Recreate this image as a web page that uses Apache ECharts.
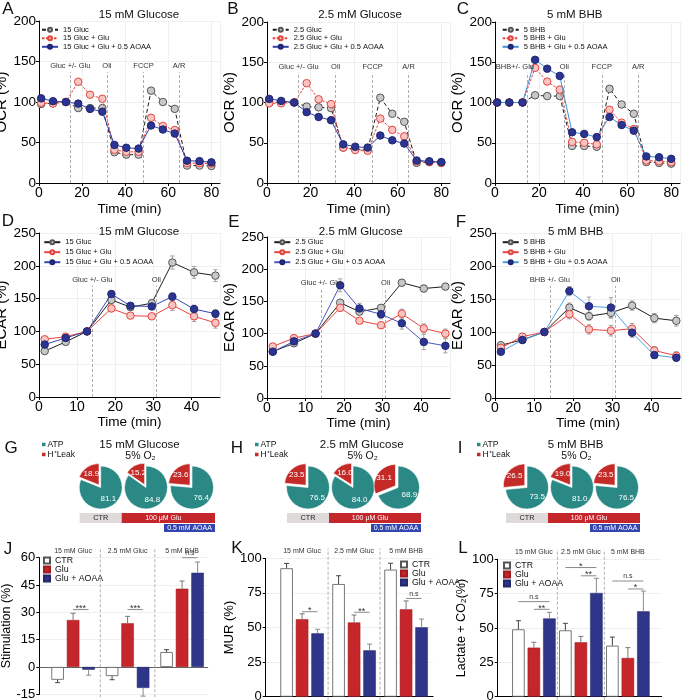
<!DOCTYPE html>
<html><head><meta charset="utf-8">
<script src="https://cdn.jsdelivr.net/npm/echarts@6/dist/echarts.min.js"></script>
<style>html,body{margin:0;padding:0;background:#fff}#c{width:685px;height:700px}</style>
</head><body><div id="c"></div>
<script>
// ================= DATA =================
const ocrTime = [1, 6.5, 12.5, 18.2, 23.7, 29.4, 35, 40.5, 46.2, 52, 57.5, 63, 68.7, 74.5, 80];
const ocrEvents = [14.5, 31.5, 48.5, 65];
const ocrLabelsGluc = ['Gluc +/- Glu', 'Oli', 'FCCP', 'A/R'];
const ocrLabelsBHB = ['BHB+/- Glu', 'Oli', 'FCCP', 'A/R'];

const namesA = ['15 Gluc', '15 Gluc + Glu', '15 Gluc + Glu + 0.5 AOAA'];
const namesB = ['2.5 Gluc', '2.5 Gluc + Glu', '2.5 Gluc + Glu + 0.5 AOAA'];
const namesC = ['5 BHB', '5 BHB + Glu', '5 BHB + Glu + 0.5 AOAA'];

const ocrA_gluc = [97.5, 98.5, 100, 92.5, 92.5, 92.5, 38, 35, 35, 114, 100, 91.5, 21.5, 21.5, 21];
const ocrA_glu  = [99, 98, 100, 125, 109, 104, 41, 38.5, 38.5, 80.5, 70.5, 65.5, 24.5, 24.5, 24];
const ocrA_aoaa = [104.5, 101, 100, 98, 91.5, 88, 47, 43.5, 42.5, 71, 66, 61, 27.5, 27, 25.5];

const ocrB_gluc = [101, 100, 100, 95, 94, 93, 44, 42, 41, 106, 86, 76, 25, 26, 25];
const ocrB_glu  = [99, 99, 100, 124, 104, 98, 44, 41, 40, 80, 66, 58, 27, 26, 25];
const ocrB_aoaa = [104.5, 102, 100, 88, 82, 78, 48, 45, 44, 59, 53, 49, 28, 27, 26];

const ocrC_bhb  = [100, 100, 100, 109, 108, 108, 46, 46, 45, 117, 97.5, 86, 26, 25, 24];
const ocrC_glu  = [100, 100, 100, 143, 126, 116, 51, 50, 48, 91, 75, 67, 28, 27, 26];
const ocrC_aoaa = [100, 100, 100, 153, 142, 133, 63, 61, 57, 82, 72, 65, 33, 32, 30];

const ecarTime = [1.5, 7, 12.6, 19, 24, 29.6, 35, 40.7, 46.3];
const ecarEvents = [14, 30.8];
const ecarLabelsGluc = ['Gluc +/- Glu', 'Oli'];
const ecarLabelsBHB = ['BHB +/- Glu', 'Oli'];

const ecarD_gluc = [70, 84, 100, 148, 137, 143, 205, 190, 185];
const ecarD_glu  = [88, 92, 100, 135, 124, 123, 140, 123, 113];
const ecarD_aoaa = [80, 90, 100, 157, 139, 138, 153, 134, 127];
const ecarD_glucErr = [3, 3, 0, 6, 4, 5, 10, 9, 9];
const ecarD_gluErr  = [3, 3, 0, 5, 4, 4, 8, 8, 8];
const ecarD_aoaaErr = [3, 3, 0, 4, 4, 4, 6, 6, 6];

const ecarE_gluc = [72, 85, 100, 148, 134, 140, 179, 170, 173];
const ecarE_glu  = [80, 93, 100, 140, 120, 113, 131, 108, 100];
const ecarE_aoaa = [72, 88, 100, 175, 139, 130, 116, 87, 81];
const ecarE_glucErr = [3, 3, 0, 5, 4, 4, 5, 5, 5];
const ecarE_gluErr  = [3, 3, 0, 5, 4, 4, 7, 7, 7];
const ecarE_aoaaErr = [3, 3, 0, 10, 8, 7, 9, 12, 11];

const ecarF_bhb  = [80, 88, 100, 137, 124, 129, 140, 121, 117];
const ecarF_glu  = [76, 93, 100, 127, 104, 102, 105, 72, 64];
const ecarF_aoaa = [70, 88, 100, 162, 139, 137, 99, 65, 61];
const ecarF_bhbErr  = [3, 3, 0, 7, 6, 8, 7, 7, 8];
const ecarF_gluErr  = [3, 3, 0, 7, 7, 8, 8, 6, 6];
const ecarF_aoaaErr = [3, 3, 0, 7, 14, 15, 7, 5, 5];

const pieNames = ['ATP', 'H\u207ALeak'];
const atpG = [81.1, 84.8, 76.4], leakG = [18.9, 15.2, 23.6];
const atpH = [76.5, 84.0, 68.9], leakH = [23.5, 16.0, 31.1];
const atpI = [73.5, 81.0, 76.5], leakI = [26.5, 19.0, 23.5];

const barGroups = ['15 mM Gluc', '2.5 mM Gluc', '5 mM BHB'];
const barNames = ['CTR', 'Glu', 'Glu + AOAA'];
const stimCTR = [-7, -5, 8.2],     stimCTRErr = [1.6, 2, 1.3];
const stimGlu = [25.8, 24, 43],    stimGluErr = [3.7, 3.8, 4.2];
const stimAOAA = [-1.5, -11.5, 51.7], stimAOAAErr = [3, 4.5, 5.9];
const murCTR = [92.8, 81.4, 91.8], murCTRErr = [3.5, 6, 4.6];
const murGlu = [56, 53.7, 63.1],   murGluErr = [3.9, 5.3, 6.1];
const murAOAA = [45.8, 33.5, 50.1], murAOAAErr = [2.9, 4.5, 6];
const lacCTR = [49, 48.3, 37.1],   lacCTRErr = [6.3, 5.1, 6.3];
const lacGlu = [35.7, 39.6, 28.2], lacGluErr = [3.9, 4.3, 7.5];
const lacAOAA = [57, 75.5, 62.1],  lacAOAAErr = [4.4, 10.7, 14.8];
// [group, barA, barB, y, text]
const stimSig = [[0, 1, 2, 31.5, '***'], [1, 1, 2, 31.5, '***'], [2, 1, 2, 60, 'n.s']];
const murSig  = [[0, 1, 2, 61.4, '*'], [1, 1, 2, 61, '**'], [2, 1, 2, 71, 'n.s']];
const lacSig  = [[0, 0, 2, 69.2, 'n.s'], [0, 1, 2, 63.6, '**'], [1, 0, 2, 94, '*'], [1, 1, 2, 88, '**'], [2, 0, 2, 84.2, 'n.s'], [2, 1, 2, 78.4, '*']];

// ================= STYLE / LAYOUT =================
const FONT = "'Liberation Sans', Arial, Helvetica, sans-serif";
const ST = [
  {fill: '#c8c8c8', border: '#555', line: '#1e1e1e'},
  {fill: '#f9c4c2', border: '#e2463f', line: '#e8443e'},
  {fill: '#2b3591', border: '#1f2670', line: '#2f3fae'}
];
const grids = [
  {left: 39, top: 21, width: 181, height: 162},
  {left: 267, top: 22, width: 183, height: 161},
  {left: 495, top: 22, width: 185, height: 161},
  {left: 39, top: 233, width: 181, height: 164},
  {left: 267, top: 237, width: 183, height: 161},
  {left: 495, top: 233, width: 186, height: 165},
  {left: 39.3, top: 557.7, width: 168.4, height: 136.6},
  {left: 265.7, top: 558.3, width: 167.4, height: 138.4},
  {left: 497.7, top: 559.3, width: 164, height: 137.4}
];
const barPanels = [
  {gi: 6, min: -0.12, max: 2.97, band: 54.5, ymin: -15, ymax: 60, interval: 15},
  {gi: 7, min: -0.2, max: 3.02, band: 52, ymin: 0, ymax: 100, interval: 25},
  {gi: 8, min: -0.27, max: 3.22, band: 47, ymin: 0, ymax: 100, interval: 25}
];
const BAR_W = 12.5, BAR_STEP = 15.5;
function barX(p, g, k) { return g + 0.5 + (k - 1) * BAR_STEP / p.band; }

const xAxes = [], yAxes = [], series = [], legends = [], graphics = [];

function axisCommon(extra) {
  return Object.assign({
    axisLine: {show: true, onZero: false, lineStyle: {color: '#000', width: 1}},
    axisTick: {show: true, length: 3, lineStyle: {color: '#000'}},
    axisLabel: {fontSize: 13, color: '#000', margin: 4, fontFamily: FONT},
    splitLine: {show: true, lineStyle: {color: '#ececec', width: 0.8}},
    nameTextStyle: {color: '#000', fontFamily: FONT}
  }, extra);
}

// ---------- line panels ----------
const linePanels = [
  {gi: 0, t: ocrTime, ys: [ocrA_gluc, ocrA_glu, ocrA_aoaa], names: namesA, ev: ocrEvents, evL: ocrLabelsGluc, evTop: 137, dashed: true, blue: '#2f3fae', lg: [41, 25.8, 0.5]},
  {gi: 1, t: ocrTime, ys: [ocrB_gluc, ocrB_glu, ocrB_aoaa], names: namesB, ev: ocrEvents, evL: ocrLabelsGluc, evTop: 137, dashed: true, blue: '#2f3fae', lg: [271.7, 25.8, 0.5]},
  {gi: 2, t: ocrTime, ys: [ocrC_bhb, ocrC_glu, ocrC_aoaa], names: namesC, ev: ocrEvents, evL: ocrLabelsBHB, evTop: 137, dashed: true, blue: '#3d90da', lg: [501.7, 25.8, 0.5], firstOffset: -12},
  {gi: 3, t: ecarTime, ys: [ecarD_gluc, ecarD_glu, ecarD_aoaa], es: [ecarD_glucErr, ecarD_gluErr, ecarD_aoaaErr], names: namesA.map(n => n + '\u200b'), ev: ecarEvents, evL: ecarLabelsGluc, evTop: 170, dashed: false, blue: '#3545b4', lg: [43.3, 238.2, 2]},
  {gi: 4, t: ecarTime, ys: [ecarE_gluc, ecarE_glu, ecarE_aoaa], es: [ecarE_glucErr, ecarE_gluErr, ecarE_aoaaErr], names: namesB.map(n => n + '\u200b'), ev: ecarEvents, evL: ecarLabelsGluc, evTop: 170, dashed: false, blue: '#4a56c0', lg: [273.3, 238.2, 2]},
  {gi: 5, t: ecarTime, ys: [ecarF_bhb, ecarF_glu, ecarF_aoaa], es: [ecarF_bhbErr, ecarF_gluErr, ecarF_aoaaErr], names: namesC.map(n => n + '\u200b'), ev: ecarEvents, evL: ecarLabelsBHB, evTop: 170, dashed: false, blue: '#4a9fe2', lg: [501.7, 238.2, 2]}
];

function errLineSeries(gi, xs, ys, es) {
  return {
    type: 'custom', coordinateSystem: 'cartesian2d', xAxisIndex: gi, yAxisIndex: gi, silent: true, z: 1,
    data: xs.map((x, i) => [x, ys[i], es[i]]),
    renderItem: function (params, api) {
      const x = api.value(0), y = api.value(1), e = api.value(2);
      if (!e) return null;
      const a = api.coord([x, y - e]), b = api.coord([x, y + e]);
      const cw = 2.2, s = {stroke: '#9a9a9a', lineWidth: 0.9};
      return {type: 'group', children: [
        {type: 'line', shape: {x1: a[0], y1: a[1], x2: b[0], y2: b[1]}, style: s},
        {type: 'line', shape: {x1: a[0] - cw, y1: a[1], x2: a[0] + cw, y2: a[1]}, style: s},
        {type: 'line', shape: {x1: b[0] - cw, y1: b[1], x2: b[0] + cw, y2: b[1]}, style: s}
      ]};
    }
  };
}

linePanels.forEach(p => {
  const isOcr = p.gi < 3;
  xAxes.push(axisCommon({
    gridIndex: p.gi, type: 'value', min: 0, max: isOcr ? 84 : 47.5, interval: isOcr ? 20 : 10,
    name: 'Time (min)', nameLocation: 'middle', nameGap: isOcr ? 19 : 18,
    nameTextStyle: {fontSize: 13.5, color: '#000', fontFamily: FONT},
    axisLabel: {fontSize: 14, color: '#000', margin: 3, showMaxLabel: false, fontFamily: FONT}
  }));
  yAxes.push(axisCommon({
    gridIndex: p.gi, type: 'value', min: 0, max: isOcr ? 200 : 250, interval: 50,
    name: isOcr ? 'OCR (%)' : 'ECAR (%)', nameLocation: 'middle', nameGap: 25,
    nameTextStyle: {fontSize: 15, color: '#000', fontFamily: FONT},
    axisLabel: {fontSize: 13.5, color: '#000', margin: 3, fontFamily: FONT}
  }));
  if (p.es) p.ys.forEach((ys, k) => series.push(errLineSeries(p.gi, p.t, ys, p.es[k])));
  p.ys.forEach((ys, k) => {
    const st = ST[k];
    let ltype = 'solid';
    if (p.dashed && k === 0) ltype = [4, 2.5];
    if (p.dashed && k === 1) ltype = [2.5, 1.5];
    const s = {
      type: 'line', name: p.names[k], xAxisIndex: p.gi, yAxisIndex: p.gi,
      data: p.t.map((x, i) => [x, ys[i]]),
      symbol: 'circle', symbolSize: 7.5, showSymbol: true, z: 2 + k,
      lineStyle: {color: k === 2 ? p.blue : st.line, width: 1, type: ltype},
      itemStyle: {color: st.fill, borderColor: st.border, borderWidth: 1},
      emphasis: {disabled: true}
    };
    if (k === 0) {
      s.markLine = {
        silent: true, symbol: ['none', 'none'], animation: false,
        lineStyle: {color: '#9a9a9a', type: [3, 2], width: 0.8},
        label: {show: true, position: 'end', fontSize: 7.5, color: '#333', distance: 2, formatter: '{b}', fontFamily: FONT},
        emphasis: {disabled: true},
        data: p.ev.map((x, i) => {
          const first = {name: p.evL[i], coord: [x, 0]};
          if (i === 0 && p.firstOffset) first.label = {offset: [p.firstOffset, 0]};
          return [first, {coord: [x, p.evTop]}];
        })
      };
    }
    series.push(s);
  });
  legends.push({
    data: p.names, left: p.lg[0], top: p.lg[1], orient: 'vertical', padding: 0,
    itemGap: p.lg[2], itemWidth: 16, itemHeight: 5, selectedMode: false,
    textStyle: {fontSize: 7.5, lineHeight: 7, color: '#111', fontFamily: FONT}
  });
});

// ---------- bar panels ----------
const barSets = [
  {vals: [stimCTR, stimGlu, stimAOAA], errs: [stimCTRErr, stimGluErr, stimAOAAErr], sig: stimSig, name: 'Stimulation (%)', nameGap: 22, nameSize: 12.5, lg: [43, 556]},
  {vals: [murCTR, murGlu, murAOAA], errs: [murCTRErr, murGluErr, murAOAAErr], sig: murSig, name: 'MUR (%)', nameGap: 21, nameSize: 13, lg: [400, 560]},
  {vals: [lacCTR, lacGlu, lacAOAA], errs: [lacCTRErr, lacGluErr, lacAOAAErr], sig: lacSig, name: 'Lactate + CO\u2082(%)', nameGap: 22, nameSize: 12.5, lg: [503, 561]}
];
const barStyles = [
  {color: '#ffffff', borderColor: '#555', borderWidth: 0.8},
  {color: '#c4262b', borderColor: '#9e1c1f', borderWidth: 0.5},
  {color: '#2f3588', borderColor: '#23286a', borderWidth: 0.5}
];
const errColors = ['#444', '#777', '#8a8a8a'];

barPanels.forEach((p, pi) => {
  const b = barSets[pi];
  xAxes.push({
    gridIndex: p.gi, type: 'value', min: p.min, max: p.max,
    axisLine: {show: true, onZero: true, lineStyle: {color: pi === 0 ? '#666' : '#000', width: 1}},
    axisTick: {show: false}, axisLabel: {show: false}, splitLine: {show: false}
  });
  yAxes.push(axisCommon({
    gridIndex: p.gi, type: 'value', min: p.ymin, max: p.ymax, interval: p.interval,
    name: b.name, nameLocation: 'middle', nameGap: b.nameGap,
    nameTextStyle: {fontSize: b.nameSize, color: '#000', fontFamily: FONT}
  }));
  // separators
  series.push({
    type: 'custom', coordinateSystem: 'cartesian2d', xAxisIndex: p.gi, yAxisIndex: p.gi, silent: true, z: 1,
    data: barGroups.slice(1).map((_, i) => [i + 1, p.ymin]),
    renderItem: function (params, api) {
      const a = api.coord([api.value(0), p.ymin]), c = api.coord([api.value(0), p.ymax]);
      return {type: 'line', shape: {x1: a[0], y1: a[1] + 3, x2: c[0], y2: c[1] - 10}, style: {stroke: '#a8a8a8', lineWidth: 0.9, lineDash: [3, 2]}};
    }
  });
  // group headers
  series.push({
    type: 'custom', coordinateSystem: 'cartesian2d', xAxisIndex: p.gi, yAxisIndex: p.gi, silent: true, z: 5,
    data: barGroups.map((_, i) => [i + 0.5, p.ymax]),
    renderItem: function (params, api) {
      const a = api.coord([api.value(0), api.value(1)]);
      return {type: 'text', x: a[0], y: a[1] - 7, style: {text: barGroups[params.dataIndex], fontSize: 7, fontFamily: FONT, fill: '#333', align: 'center', verticalAlign: 'middle', textAlign: 'center', textVerticalAlign: 'middle'}};
    }
  });
  b.vals.forEach((vals, k) => {
    series.push({
      type: 'bar', name: barNames[k], xAxisIndex: p.gi, yAxisIndex: p.gi,
      barWidth: BAR_W, barGap: '-100%', z: 2,
      data: vals.map((v, g) => [barX(p, g, k), v]),
      itemStyle: barStyles[k], emphasis: {disabled: true}
    });
    const ec = errColors[k];
    series.push({
      type: 'custom', coordinateSystem: 'cartesian2d', xAxisIndex: p.gi, yAxisIndex: p.gi, silent: true, z: 3, clip: false,
      data: vals.map((v, g) => [barX(p, g, k), v, b.errs[k][g]]),
      renderItem: function (params, api) {
        const x = api.value(0), y = api.value(1), e = api.value(2);
        const d = y < 0 ? -1 : 1;
        const a = api.coord([x, y]), c = api.coord([x, y + d * e]);
        const s = {stroke: ec, lineWidth: 1};
        return {type: 'group', children: [
          {type: 'line', shape: {x1: a[0], y1: a[1], x2: c[0], y2: c[1]}, style: s},
          {type: 'line', shape: {x1: c[0] - 2.5, y1: c[1], x2: c[0] + 2.5, y2: c[1]}, style: s}
        ]};
      }
    });
  });
  // significance brackets
  const sig = b.sig;
  series.push({
    type: 'custom', coordinateSystem: 'cartesian2d', xAxisIndex: p.gi, yAxisIndex: p.gi, silent: true, z: 6, clip: false,
    data: sig.map(s => [barX(p, s[0], s[1]), s[3], barX(p, s[0], s[2])]),
    renderItem: function (params, api) {
      const a = api.coord([api.value(0), api.value(1)]), c = api.coord([api.value(2), api.value(1)]);
      const t = sig[params.dataIndex][4];
      const star = t.indexOf('*') >= 0;
      return {type: 'group', children: [
        {type: 'line', shape: {x1: a[0], y1: a[1], x2: c[0], y2: c[1]}, style: {stroke: '#8a8a8a', lineWidth: 1}},
        {type: 'text', x: (a[0] + c[0]) / 2, y: a[1] + (star ? 3.5 : -1), style: {text: t, fontSize: star ? 9 : 7, fontFamily: FONT, fill: '#333', align: 'center', verticalAlign: 'bottom', textAlign: 'center', textVerticalAlign: 'bottom'}}
      ]};
    }
  });
  legends.push({
    data: barNames, left: b.lg[0], top: b.lg[1], orient: 'vertical', padding: 0,
    itemGap: 0, itemWidth: 6, itemHeight: 6, icon: 'rect', selectedMode: false,
    textStyle: {fontSize: 8.8, lineHeight: 8, color: '#111', fontFamily: FONT}
  });
});

// ---------- pies ----------
const pieCY = 487.5;
const pieSets = [
  {cx: [100.7, 146, 192], atp: atpG, leak: leakG, title: '15 mM Glucose', tx: 139.5, lg: 40, letter: ['G', 11]},
  {cx: [308, 353, 398], atp: atpH, leak: leakH, title: '2.5 mM Glucose', tx: 361.7, lg: 253, letter: ['H', 237]},
  {cx: [527, 572, 617], atp: atpI, leak: leakI, title: '5 mM BHB', tx: 575.5, lg: 475, letter: ['I', 460]}
];
function txt(text, x, y, size, extra) {
  return {type: 'text', x: x, y: y, silent: true, z: 100, style: Object.assign({
    text: text, fontSize: size, fontFamily: FONT, fill: '#111',
    align: 'center', verticalAlign: 'middle', textAlign: 'center', textVerticalAlign: 'middle'
  }, extra || {})};
}
pieSets.forEach(ps => {
  ps.cx.forEach((cx, i) => {
    series.push({
      type: 'pie', center: [cx, pieCY], radius: 21.5, startAngle: 90, clockwise: true,
      selectedMode: 'multiple', selectedOffset: 3, avoidLabelOverlap: false, silent: true,
      label: {show: true, position: 'inside', color: '#fff', fontSize: 8, fontFamily: FONT, formatter: q => q.value.toFixed(1)},
      labelLine: {show: false}, emphasis: {disabled: true},
      itemStyle: {borderColor: '#fff', borderWidth: 0.6},
      data: [
        {name: pieNames[0], value: ps.atp[i], itemStyle: {color: '#2a8985'}},
        {name: pieNames[1], value: ps.leak[i], selected: true, itemStyle: {color: '#c42a27'}}
      ]
    });
  });
  legends.push({
    data: pieNames, left: ps.lg, top: 440, orient: 'vertical', padding: 0, itemGap: 1,
    itemWidth: 5.5, itemHeight: 5.5, icon: 'rect', selectedMode: false,
    textStyle: {fontSize: 8.5, lineHeight: 8, color: '#111', fontFamily: FONT, padding: [0, 0, 0, -4]}
  });
  const c1 = ps.cx[0], c2 = ps.cx[1], c3 = ps.cx[2];
  graphics.push(
    {type: 'rect', silent: true, shape: {x: c1 - 21, y: 513, width: 42, height: 10}, style: {fill: '#dedada'}},
    {type: 'rect', silent: true, shape: {x: c1 + 21, y: 513, width: c3 + 23 - (c1 + 21), height: 10}, style: {fill: '#c4262b'}},
    {type: 'rect', silent: true, shape: {x: c2 + 18, y: 524, width: c3 + 23 - (c2 + 18), height: 8}, style: {fill: '#3346b0'}},
    txt('CTR', c1, 518.2, 7.3, {fill: '#222'}),
    txt('100 \u03BCM Glu', (c1 + 21 + c3 + 23) / 2 - 5, 518.2, 7, {fill: '#fff'}),
    txt('0.5 mM AOAA', (c2 + 18 + c3 + 23) / 2, 528.2, 7, {fill: '#fff'}),
    txt(ps.title, ps.tx, 444.5, 11.5),
    txt('5% O\u2082', ps.tx + 1, 456, 10.5),
    txt(ps.letter[0], ps.letter[1], 448, 17)
  );
});

graphics.push(
  txt('15 mM Glucose', 139, 15, 11.5), txt('2.5 mM Glucose', 360, 15, 11.5), txt('5 mM BHB', 574.7, 15, 11.5),
  txt('15 mM Glucose', 139, 232, 11.5), txt('2.5 mM Glucose', 360.7, 231.7, 11.5), txt('5 mM BHB', 575.7, 231.7, 11.5),
  txt('A', 8, 9, 17), txt('B', 233, 9, 17), txt('C', 463, 9, 17),
  txt('D', 8, 221, 17), txt('E', 234, 222, 17), txt('F', 461, 222, 17),
  txt('J', 8, 549, 17), txt('K', 237, 548, 17), txt('L', 463, 548, 17)
);

const option = {
  animation: false,
  backgroundColor: '#fff',
  textStyle: {fontFamily: FONT},
  grid: grids.map(g => Object.assign({containLabel: false, outerBoundsMode: 'none'}, g)),
  xAxis: xAxes,
  yAxis: yAxes,
  legend: legends,
  series: series,
  graphic: {elements: graphics}
};
const chart = echarts.init(document.getElementById('c'), null, {renderer: 'canvas'});
chart.setOption(option);
</script>
</body></html>
